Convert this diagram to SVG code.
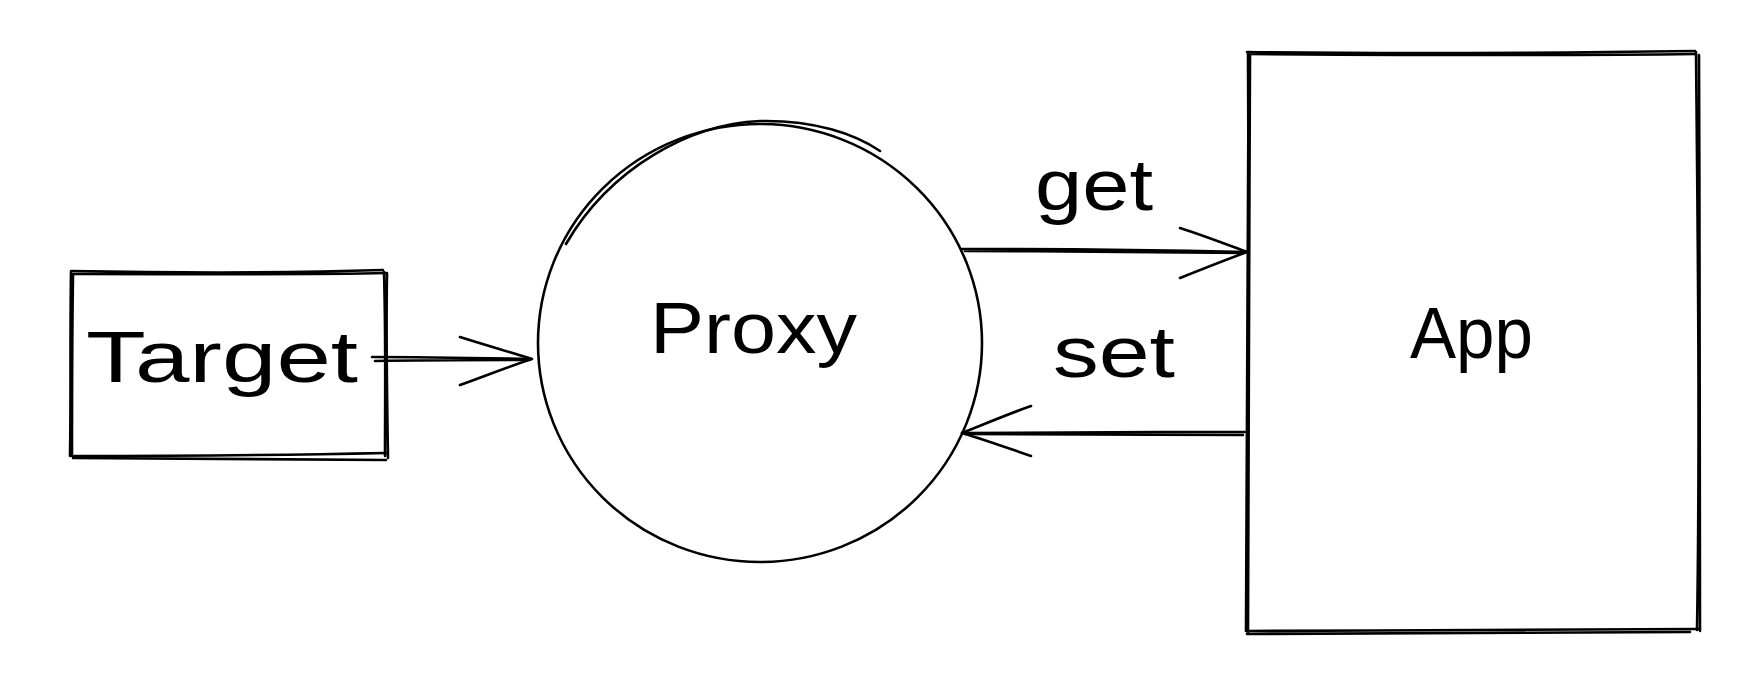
<svg xmlns="http://www.w3.org/2000/svg" width="1764" height="684" viewBox="0 0 1764 684">
<style>
.s{fill:none;stroke:#000;stroke-width:2.6;stroke-linecap:round;stroke-linejoin:round}
.l{font-family:"Liberation Sans",Arial,sans-serif;font-size:72px;fill:#000}
</style>
<rect width="1764" height="684" fill="#fff"/>
<g id="target">
<path class="s" d="M71,271 C180,273 290,273 383,270 M73,274 C200,274 300,275 387,273"/>
<path class="s" d="M387,274 C386,330 387,400 388,458 M384,272 C386,340 385,400 385,456"/>
<path class="s" d="M72,456 C180,456 290,455 386,453 M73,458 C200,459 300,460 386,460"/>
<path class="s" d="M71,272 C70,340 71,400 70,456 M73,275 C72,340 72,400 72,454"/>
<text class="l" x="86" y="382" textLength="272" lengthAdjust="spacingAndGlyphs" font-size="66">Target</text>
</g>
<g id="proxy">
<ellipse class="s" cx="760" cy="343" rx="222" ry="219"/>
<path class="s" d="M566,244 C610,168 690,124 760,121 C815,120 855,134 880,151"/>
<text class="l" x="650" y="353" textLength="207" lengthAdjust="spacingAndGlyphs">Proxy</text>
</g>
<g id="app">
<path class="s" d="M1247,52 C1400,54 1550,53 1695,51 M1250,54 C1400,55 1560,56 1696,54"/>
<path class="s" d="M1696,52 C1698,250 1700,450 1697,630 M1699,55 C1700,250 1699,450 1700,631"/>
<path class="s" d="M1248,631 C1400,630 1560,631 1699,629 M1247,634 C1400,633 1550,632 1690,632"/>
<path class="s" d="M1248,53 C1249,250 1248,450 1246,631 M1250,55 C1249,250 1249,450 1248,633"/>
<text class="l" x="1410" y="358" textLength="123" lengthAdjust="spacingAndGlyphs">App</text>
</g>
<g id="labels">
<text class="l" x="1035" y="210" textLength="118" lengthAdjust="spacingAndGlyphs">get</text>
<text class="l" x="1053" y="377" textLength="122" lengthAdjust="spacingAndGlyphs">set</text>
</g>
<g id="connectors">
<path class="s" d="M372,357 C430,357 480,358 531,359 M375,361 C430,360 490,360 529,360"/>
<path class="s" d="M460,337 C485,345 510,352 532,359 M460,385 C485,376 510,366 532,359"/>
<path class="s" d="M962,249 C1050,249 1150,250 1247,252 M965,251 C1060,251 1160,252 1244,253"/>
<path class="s" d="M1180,228 C1205,236 1228,245 1247,252 M1180,278 C1205,268 1228,259 1247,252"/>
<path class="s" d="M1245,432 C1150,432 1050,432 962,433 M1243,435 C1150,435 1050,434 965,434"/>
<path class="s" d="M1031,406 C1008,414 985,424 962,433 M1031,456 C1008,448 985,440 962,433"/>
</g>
</svg>
